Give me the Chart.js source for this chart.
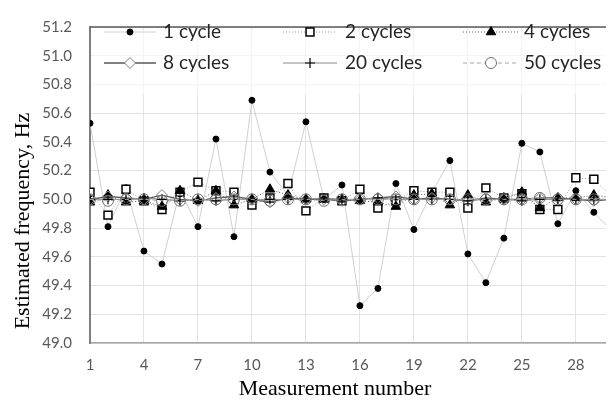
<!DOCTYPE html>
<html>
<head>
<meta charset="utf-8">
<script src="https://cdn.jsdelivr.net/npm/chart.js@4/dist/chart.umd.min.js"></script>
<style>
  html, body { margin: 0; padding: 0; background: #fff; overflow: hidden; }
  #wrap { position: relative; width: 613px; height: 408px; }
</style>
</head>
<body>
<div id="wrap"><canvas id="c"></canvas></div>
<script>
// ---- data ----
const measurement = [1,2,3,4,5,6,7,8,9,10,11,12,13,14,15,16,17,18,19,20,21,22,23,24,25,26,27,28,29,30];
const oneCycle    = [50.53,49.81,50.08,49.64,49.55,50.06,49.81,50.42,49.74,50.69,50.19,50.03,50.54,50.00,50.10,49.26,49.38,50.11,49.79,50.05,50.27,49.62,49.42,49.73,50.39,50.33,49.83,50.06,49.91,49.78];
const twoCycles   = [50.05,49.89,50.07,49.99,49.93,50.05,50.12,50.06,50.05,49.96,50.01,50.11,49.92,50.01,49.99,50.07,49.94,49.99,50.06,50.05,50.05,49.94,50.08,50.01,50.04,49.93,49.93,50.15,50.14,50.02];
const fourCycles  = [49.98,50.03,49.98,49.99,49.95,50.06,49.99,50.06,49.96,50.00,50.07,50.03,50.00,50.00,50.00,49.99,49.98,49.95,50.03,50.04,49.96,50.03,49.98,50.01,50.05,49.94,50.01,50.01,50.03,50.01];
const eightCycles = [50.00,50.02,50.01,50.00,50.03,50.00,49.99,50.01,50.02,50.00,49.98,50.01,50.00,50.00,49.99,50.00,50.01,50.02,50.00,50.01,50.00,49.99,50.01,50.00,50.00,50.01,50.01,50.00,49.99,50.00];
const twentyCycles= [50.00,50.00,50.00,50.01,50.00,49.99,50.00,49.99,50.00,50.00,50.00,50.00,50.00,50.01,50.00,50.00,50.01,50.00,50.00,50.00,50.00,49.99,50.00,50.00,49.99,50.00,50.00,50.00,50.00,50.00];
const fiftyCycles = [50.00,49.99,50.00,50.00,49.99,49.99,50.00,50.00,50.00,50.00,49.99,50.00,50.00,49.99,50.00,50.00,50.00,50.00,50.00,50.00,50.00,50.00,50.00,50.00,50.00,50.01,50.00,50.00,50.00,50.00];
const seriesNames = ['1 cycle','2 cycles','4 cycles','8 cycles','20 cycles','50 cycles'];
const xTickValues = [1,4,7,10,13,16,19,22,25,28];
const yTickValues = [49.0,49.2,49.4,49.6,49.8,50.0,50.2,50.4,50.6,50.8,51.0,51.2];
const xTitle = 'Measurement number';
const yTitle = 'Estimated frequency, Hz';

const pts = arr => arr.map((v,i) => ({x: measurement[i], y: v}));

const styles = [
  {line:'#c4c4c4', lw:0.8, dash:[],    ps:'circle',   r:3,   bg:'#000', bc:'#000', bw:1},
  {line:'#9a9a9a', lw:1,   dash:[1,2], ps:'rect',     r:5.6, bg:'#fff', bc:'#000', bw:1.5},
  {line:'#5a5a5a', lw:1,   dash:[1,2], ps:'triangle', r:5.5, bg:'#000', bc:'#000', bw:1},
  {line:'#595959', lw:1.3, dash:[],    ps:'rectRot',  r:5.5, bg:'rgba(255,255,255,0)', bc:'#7f7f7f', bw:1},
  {line:'#8c8c8c', lw:1,   dash:[],    ps:'cross',    r:5,   bg:'#000', bc:'#000', bw:1.2},
  {line:'#a6a6a6', lw:1,   dash:[4,3], ps:'circle',   r:5.5, bg:'rgba(255,255,255,0)', bc:'#6f6f6f', bw:1}
];
const allData = [oneCycle, twoCycles, fourCycles, eightCycles, twentyCycles, fiftyCycles];

const datasets = allData.map((d, i) => ({
  label: seriesNames[i],
  data: pts(d),
  borderColor: styles[i].line,
  borderWidth: styles[i].lw,
  borderDash: styles[i].dash,
  pointStyle: styles[i].ps,
  pointRadius: styles[i].r,
  pointBackgroundColor: styles[i].bg,
  pointBorderColor: styles[i].bc,
  pointBorderWidth: styles[i].bw,
  tension: 0,
  fill: false,
  order: 6 - i
}));

const decor = {
  id: 'decor',
  afterDraw(chart) {
    const ctx = chart.ctx;
    const ca = chart.chartArea;
    ctx.save();
    // top border
    ctx.strokeStyle = '#595959';
    ctx.lineWidth = 1.5;
    ctx.beginPath(); ctx.moveTo(ca.left, ca.top); ctx.lineTo(ca.right, ca.top); ctx.stroke();

    // legend
    ctx.fillStyle = 'rgba(255,255,255,0.6)';
    ctx.fillRect(ca.left + 2, ca.top + 3, ca.right - ca.left - 2, 65);
    const rows = [32, 63];
    const lineStart = [104, 283, 463];
    const lineEnd = [156, 337, 519];
    const textX = [163, 345, 524];
    ctx.font = '19px Lato';
    ctx.textBaseline = 'middle';
    ctx.textAlign = 'left';
    for (let i = 0; i < 6; i++) {
      const s = styles[i];
      const col = i % 3, row = Math.floor(i / 3);
      const y = rows[row];
      ctx.strokeStyle = s.line; ctx.lineWidth = s.lw; ctx.setLineDash(s.dash);
      ctx.beginPath(); ctx.moveTo(lineStart[col], y); ctx.lineTo(lineEnd[col], y); ctx.stroke();
      ctx.setLineDash([]);
      const mx = (lineStart[col] + lineEnd[col]) / 2;
      ctx.fillStyle = (s.ps === 'rectRot' || (s.ps === 'circle' && i === 5)) ? '#fff' : s.bg;
      ctx.strokeStyle = s.bc; ctx.lineWidth = s.bw;
      Chart.helpers.drawPoint(ctx, {pointStyle: s.ps, radius: s.r, rotation: 0, borderWidth: s.bw}, mx, y);
      ctx.fillStyle = '#262626';
      ctx.fillText(seriesNames[i], textX[col], y);
    }
    // axis titles
    ctx.fillStyle = '#000';
    ctx.font = '22px "Liberation Serif"';
    ctx.textAlign = 'center';
    ctx.textBaseline = 'middle';
    ctx.fillText(xTitle, 335, 389);
    ctx.translate(23, 221);
    ctx.rotate(-Math.PI / 2);
    ctx.fillText(yTitle, 0, 0);
    ctx.restore();
  }
};

new Chart(document.getElementById('c'), {
  type: 'line',
  data: { datasets },
  plugins: [decor],
  options: {
    responsive: true,
    maintainAspectRatio: false,
    animation: false,
    layout: { padding: { top: 10, right: 0, bottom: 0, left: 0 } },
    plugins: { legend: { display: false }, tooltip: { enabled: false } },
    scales: {
      x: {
        type: 'linear',
        min: 1,
        max: 29.67,
        afterBuildTicks: s => { s.ticks = xTickValues.map(v => ({value: v})); },
        afterFit: s => { s.height = 65; },
        grid: { color: '#e3e3e3', lineWidth: 1, drawTicks: false },
        border: { color: '#a6a6a6', width: 1.5 },
        ticks: { color: '#595959', font: { family: 'Lato', size: 15 }, padding: 13, maxRotation: 0, autoSkip: false }
      },
      y: {
        type: 'linear',
        min: 49.0,
        max: 51.2,
        afterBuildTicks: s => { s.ticks = yTickValues.map(v => ({value: v})); },
        afterFit: s => { s.width = 90; },
        grid: { color: '#e3e3e3', lineWidth: 1, drawTicks: false },
        border: { color: '#7f7f7f', width: 2 },
        ticks: { color: '#595959', font: { family: 'Lato', size: 15 }, padding: 18, callback: v => Number(v).toFixed(1) }
      }
    }
  }
});
</script>
</body>
</html>
